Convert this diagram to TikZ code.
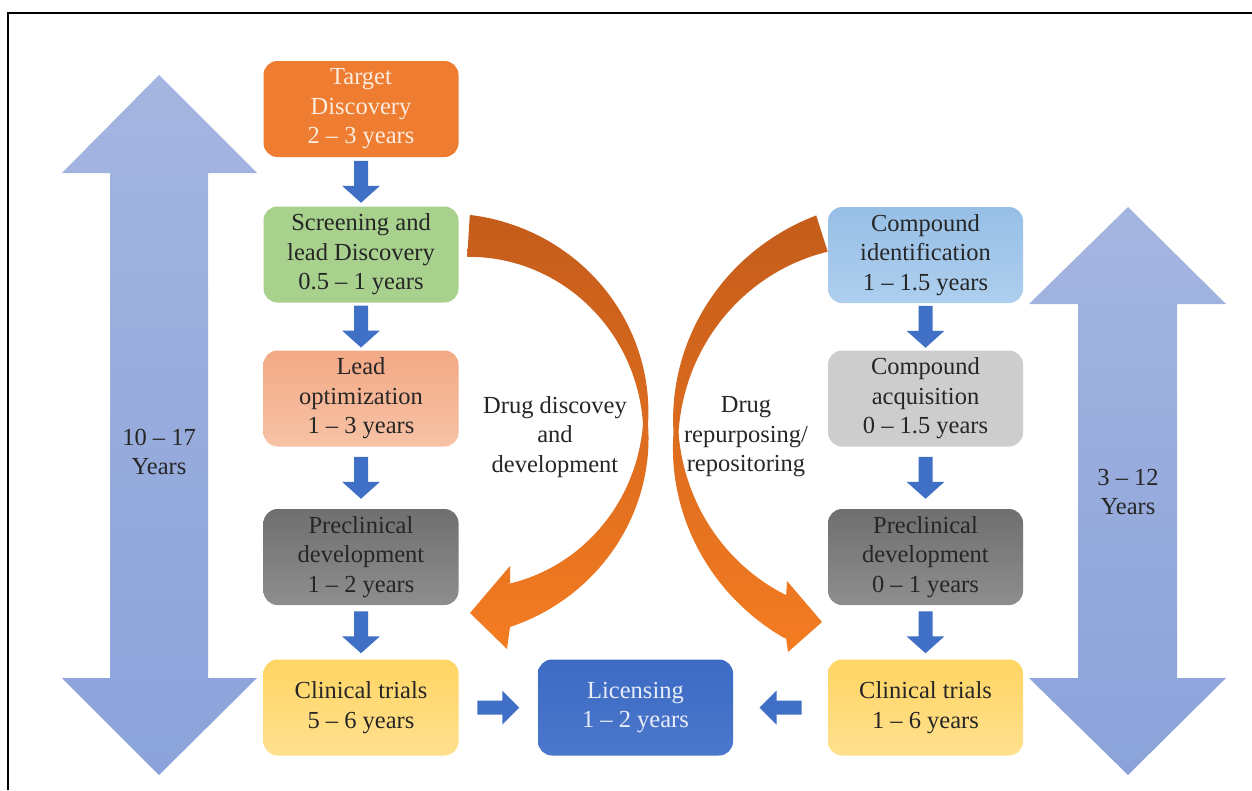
\documentclass[tikz,border=0pt]{standalone}
\usepackage{fontspec}
\setmainfont{Liberation Serif}
\usetikzlibrary{calc}

\definecolor{bigarrtop}{HTML}{A4B5DF}
\definecolor{bigarrbot}{HTML}{8AA3DA}
\definecolor{stepblue}{HTML}{3F70C6}
\definecolor{arcdark}{HTML}{C45C1B}
\definecolor{arcmid}{HTML}{DE6C20}
\definecolor{arcbright}{HTML}{F47C22}
\definecolor{txtdark}{HTML}{262626}
\definecolor{tdfill}{HTML}{EE7D31}
\definecolor{scfill}{HTML}{A9D18E}
\definecolor{lotop}{HTML}{F3A985}
\definecolor{lobot}{HTML}{F7C2A6}
\definecolor{pctop}{HTML}{6F6F6F}
\definecolor{pcbot}{HTML}{8E8E8E}
\definecolor{cttop}{HTML}{FFD563}
\definecolor{ctbot}{HTML}{FFE08F}
\definecolor{citop}{HTML}{97BFE6}
\definecolor{cibot}{HTML}{AECFEE}
\definecolor{cafill}{HTML}{CDCDCD}
\definecolor{lictop}{HTML}{3D6AC3}
\definecolor{licbot}{HTML}{4B78CC}

% vertical block arrow halfway between two stacked boxes
\newcommand\vblk[2]{%
  \fill[stepblue] let \p1=($(#1.south)!0.5!(#2.north)$) in
    (\x1-7pt,\y1+21pt) -- (\x1+7pt,\y1+21pt) -- (\x1+7pt,\y1-4pt) --
    (\x1+19pt,\y1-4pt) -- (\x1,\y1-21pt) -- (\x1-19pt,\y1-4pt) --
    (\x1-7pt,\y1-4pt) -- cycle;}
% horizontal block arrow between two boxes; #3 = 1 points right, -1 points left
\newcommand\hblk[3]{%
  \fill[stepblue] let \p1=($(#1.east)!0.5!(#2.west)$) in
    (\x1-#3*21pt,\y1+7pt) -- (\x1+#3*4pt,\y1+7pt) -- (\x1+#3*4pt,\y1+17pt) --
    (\x1+#3*21pt,\y1) -- (\x1+#3*4pt,\y1-17pt) -- (\x1+#3*4pt,\y1-7pt) --
    (\x1-#3*21pt,\y1-7pt) -- cycle;}

\begin{document}
\begin{tikzpicture}[x=1pt,y=-1pt,
  box/.style={rounded corners=14pt, minimum width=195pt, minimum height=96pt,
    align=center, inner sep=0pt, text=txtdark,
    font=\fontsize{24.5}{29.5}\selectfont},
  label/.style={align=center, text=txtdark, inner sep=0pt,
    font=\fontsize{24.5}{29.5}\selectfont}]

\useasboundingbox (0,0) rectangle (1252,790);
\fill[white] (0,0) rectangle (1252,790);

% frame lines
\draw[line width=1.6pt] (8,790) -- (8,13) -- (1252,13);

% overall time spans
\shade[top color=bigarrtop, bottom color=bigarrbot]
  (159,75) -- (257,173) -- (208,173) -- (208,678) -- (257,678) -- (159,775)
  -- (62,678) -- (110,678) -- (110,173) -- (62,173) -- cycle;
\shade[top color=bigarrtop, bottom color=bigarrbot]
  (1128,207) -- (1226,304) -- (1177,304) -- (1177,678) -- (1226,678) -- (1128,775)
  -- (1029,678) -- (1078,678) -- (1078,304) -- (1029,304) -- cycle;
\node[label] (spanL) at (159,452) {10 – 17\\Years};
\node[label] (spanR) at (1128,492) {3 – 12\\Years};

% curved arrow: drug discovery and development
\shade[top color=arcdark, middle color=arcmid, bottom color=arcbright]
  plot[domain=-86.5:74, samples=90]
    ({457+(188.5+0.5*(5+37*abs(\x)/(\x<0?86.5:74)))*cos(\x)},
     {424+(188.5+0.5*(5+37*abs(\x)/(\x<0?86.5:74)))*sin(\x)})
  -- (510,627) -- (507,649) -- (470,613) -- (510,566) -- (510,583)
  -- plot[domain=74:-86.5, samples=90]
    ({457+(188.5-0.5*(5+37*abs(\x)/(\x<0?86.5:74)))*cos(\x)},
     {424+(188.5-0.5*(5+37*abs(\x)/(\x<0?86.5:74)))*sin(\x)})
  -- cycle;

% curved arrow: drug repurposing
\shade[top color=arcdark, middle color=arcmid, bottom color=arcbright]
  plot[domain=252.5:116, samples=90]
    ({884.7+(208.7+0.5*(5+(\x>180?33*(\x-180)/72.5:35*(180-\x)/64)))*cos(\x)},
     {432.6+(208.7+0.5*(5+(\x>180?33*(\x-180)/72.5:35*(180-\x)/64)))*sin(\x)})
  -- (786,638) -- (788,652) -- (822,622) -- (787,581) -- (786,598)
  -- plot[domain=116:252.5, samples=90]
    ({884.7+(208.7-0.5*(5+(\x>180?33*(\x-180)/72.5:35*(180-\x)/64)))*cos(\x)},
     {432.6+(208.7-0.5*(5+(\x>180?33*(\x-180)/72.5:35*(180-\x)/64)))*sin(\x)})
  -- cycle;

\node[label] (pathA) at (555,437) {Drug discovey\\and\\development};
\node[label] (pathB) at (746,437) {Drug\\repurposing/\\repositoring};

% drug discovery and development pipeline
\node[box, fill=tdfill, text=white!85!tdfill] (td) at (361,109) {Target\\Discovery\\2 – 3 years};
\node[box, fill=scfill] (sc) at (361,254.5) {Screening and\\lead Discovery\\0.5 – 1 years};
\node[box, top color=lotop, bottom color=lobot] (lo) at (361,398.5) {Lead\\optimization\\1 – 3 years};
\node[box, top color=pctop, bottom color=pcbot] (pc) at (361,557) {Preclinical\\development\\1 – 2 years};
\node[box, top color=cttop, bottom color=ctbot] (ct) at (361,707.5) {Clinical trials\\5 – 6 years};

% repurposing pipeline
\node[box, top color=citop, bottom color=cibot] (ci) at (925.5,255) {Compound\\identification\\1 – 1.5 years};
\node[box, fill=cafill] (ca) at (925.5,398.5) {Compound\\acquisition\\0 – 1.5 years};
\node[box, top color=pctop, bottom color=pcbot] (pr) at (925.5,557) {Preclinical\\development\\0 – 1 years};
\node[box, top color=cttop, bottom color=ctbot] (cr) at (925.5,707.5) {Clinical trials\\1 – 6 years};

% licensing
\node[box, top color=lictop, bottom color=licbot, text=white!88!lictop] (lic) at (635.5,707.5) {Licensing\\1 – 2 years};

% step arrows
\vblk{td}{sc}
\vblk{sc}{lo}
\vblk{lo}{pc}
\vblk{pc}{ct}
\vblk{ci}{ca}
\vblk{ca}{pr}
\vblk{pr}{cr}
\hblk{ct}{lic}{1}
\hblk{lic}{cr}{-1}

\end{tikzpicture}
\end{document}
